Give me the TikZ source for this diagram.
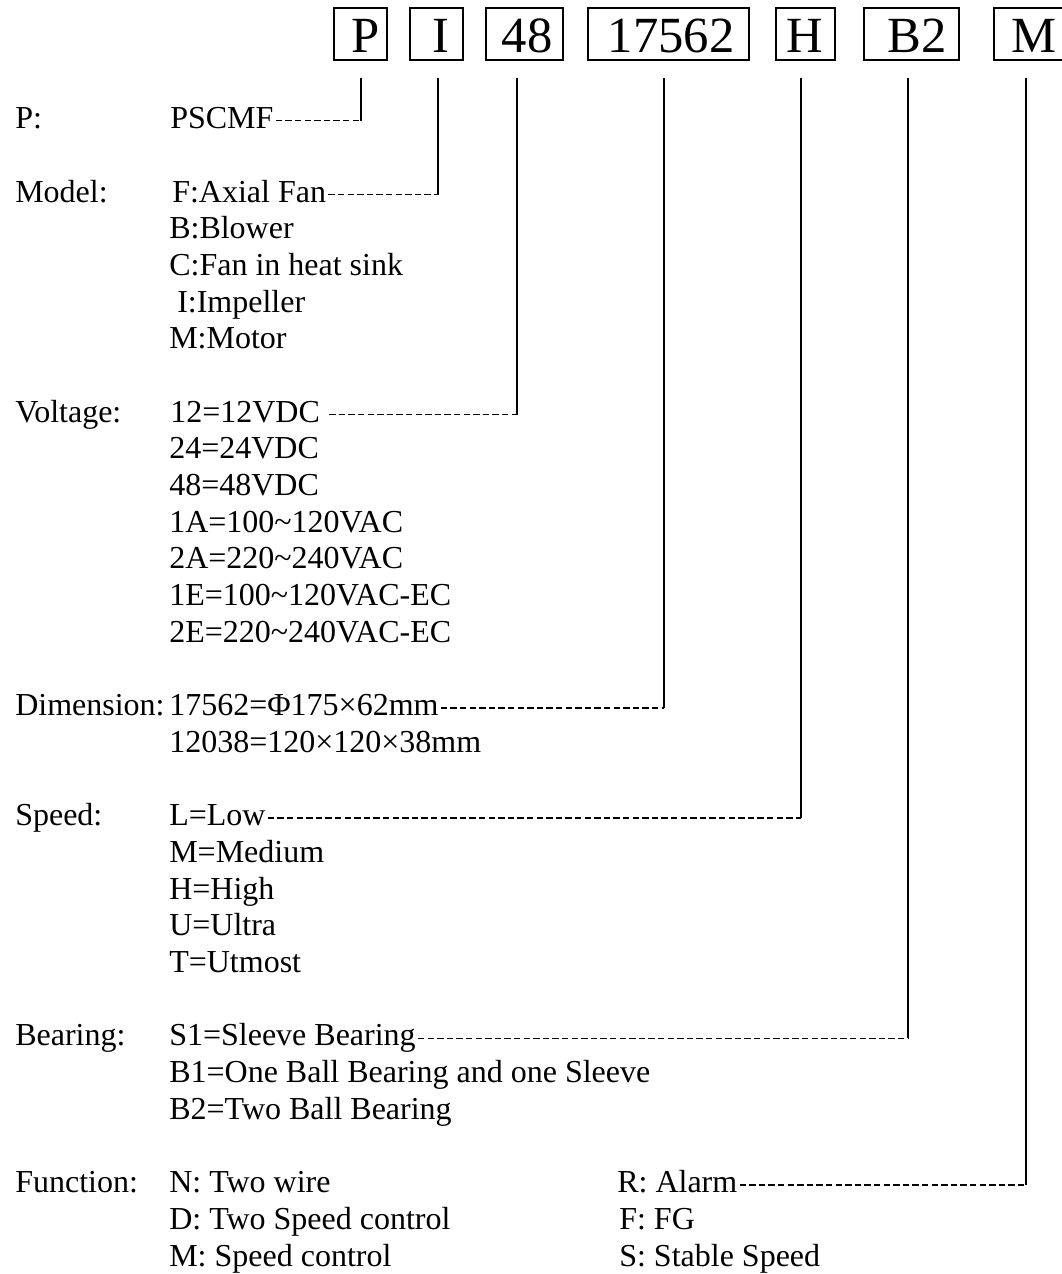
\documentclass[tikz,border=0pt]{standalone}
\usepackage{fontspec}
\setmainfont{Liberation Serif}
\usetikzlibrary{calc}
\begin{document}
\begin{tikzpicture}[x=0.75pt,y=-0.75pt,
  txt/.style={font=\fontsize{24pt}{28pt}\selectfont, anchor=base west, inner sep=0pt},
  codebox/.style={draw, line width=1.1pt, minimum height=39pt, inner sep=0pt},
  codetxt/.style={font=\fontsize{38pt}{40pt}\selectfont, anchor=base, inner sep=0pt},
  leader/.style={line width=1.3pt, dash pattern=on 4.8pt off 2.4pt},
  stem/.style={line width=1.1pt}]
\useasboundingbox (0,0) rectangle (1062,1274);
\fill[white] (0,0) rectangle (1062,1274);
% ---------- code boxes ----------
\node[codebox, minimum width=39.75pt]  (bP) at (360.5,34) {};
\node[codebox, minimum width=39.75pt]  (bI) at (436.5,34) {};
\node[codebox, minimum width=57.75pt]  (bV) at (524.5,34) {};
\node[codebox, minimum width=120.75pt] (bD) at (668.5,34) {};
\node[codebox, minimum width=44.25pt]  (bS) at (805.5,34) {};
\node[codebox, minimum width=71.25pt]  (bB) at (911.5,34) {};
\node[codebox, minimum width=54pt]     (bF) at (1030,34) {};
\node[codetxt] (tP) at (366,52) {P};
\node[codetxt] (tI) at (441,52) {I};
\node[codetxt] (tV) at (527,52) {48};
\node[codetxt] (tD) at (671,52) {17562};
\node[codetxt] (tS) at (805,52) {H};
\node[codetxt] (tB) at (917,52) {B2};
\node[codetxt] (tF) at (1034,52) {M};
\coordinate (topline) at (0,78);
% ---------- labels ----------
\node[txt] (lP) at (15,128)    {P:};
\node[txt] (lM) at (15,202)    {Model:};
\node[txt] (lV) at (15,422)    {Voltage:};
\node[txt] (lD) at (15,715.6)  {Dimension:};
\node[txt] (lS) at (15,825.7)  {Speed:};
\node[txt] (lB) at (15,1045.9) {Bearing:};
\node[txt] (lF) at (15,1192.7) {Function:};
% ---------- values ----------
\node[txt] (vP)  at (170,128)   {PSCMF};
\node[txt] (vM1) at (172,202)   {F:Axial Fan};
\node[txt] (vM2) at (169,238.7) {B:Blower};
\node[txt] (vM3) at (169,275.4) {C:Fan in heat sink};
\node[txt] (vM4) at (177,312.1) {I:Impeller};
\node[txt] (vM5) at (169,348.8) {M:Motor};
\node[txt] (vV1) at (170,422)   {12=12VDC};
\node[txt] (vV2) at (169,458.7) {24=24VDC};
\node[txt] (vV3) at (169,495.4) {48=48VDC};
\node[txt] (vV4) at (169,532.1) {1A=100\textasciitilde120VAC};
\node[txt] (vV5) at (169,568.8) {2A=220\textasciitilde240VAC};
\node[txt] (vV6) at (169,605.5) {1E=100\textasciitilde120VAC-EC};
\node[txt] (vV7) at (169,642.2) {2E=220\textasciitilde240VAC-EC};
\node[txt] (vD1) at (169,715.6) {17562=Φ175×62mm};
\node[txt] (vD2) at (169,752.3) {12038=120×120×38mm};
\node[txt] (vS1) at (169,825.7) {L=Low};
\node[txt] (vS2) at (169,862.4) {M=Medium};
\node[txt] (vS3) at (169,899.1) {H=High};
\node[txt] (vS4) at (169,935.8) {U=Ultra};
\node[txt] (vS5) at (169,972.5) {T=Utmost};
\node[txt] (vB1) at (169,1045.9) {S1=Sleeve Bearing};
\node[txt] (vB2) at (169,1082.6) {B1=One Ball Bearing and one Sleeve};
\node[txt] (vB3) at (169,1119.3) {B2=Two Ball Bearing};
\node[txt] (vF1) at (169,1192.7) {N: Two wire};
\node[txt] (vF2) at (169,1229.4) {D: Two Speed control};
\node[txt] (vF3) at (169,1266.1) {M: Speed control};
\node[txt] (vF4) at (617,1192.7) {R: Alarm};
\node[txt] (vF5) at (619,1229.4) {F: FG};
\node[txt] (vF6) at (619,1266.1) {S: Stable Speed};
% ---------- corners ----------
\coordinate (cP) at (361,120.5);
\coordinate (cI) at (438,194.5);
\coordinate (cV) at (517,414.5);
\coordinate (cD) at (664,708.1);
\coordinate (cS) at (801,818.2);
\coordinate (cB) at (908,1038.4);
\coordinate (cF) at (1026,1185.2);
% ---------- connectors ----------
\draw[leader] ($(vP.base east)+(2,-7.5)$)  -- (cP);
\draw[leader] ($(vM1.base east)+(2,-7.5)$) -- (cI);
\draw[leader] ($(vV1.base east)+(9,-7.5)$) -- (cV);
\draw[leader] ($(vD1.base east)+(2,-7.5)$) -- (cD);
\draw[leader] ($(vS1.base east)+(2,-7.5)$) -- (cS);
\draw[leader] ($(vB1.base east)+(2,-7.5)$) -- (cB);
\draw[leader] ($(vF4.base east)+(2,-7.5)$) -- (cF);
\foreach \c in {cP,cI,cV,cD,cS,cB,cF}
  \draw[stem] (\c) -- (\c |- topline);
\end{tikzpicture}
\end{document}
